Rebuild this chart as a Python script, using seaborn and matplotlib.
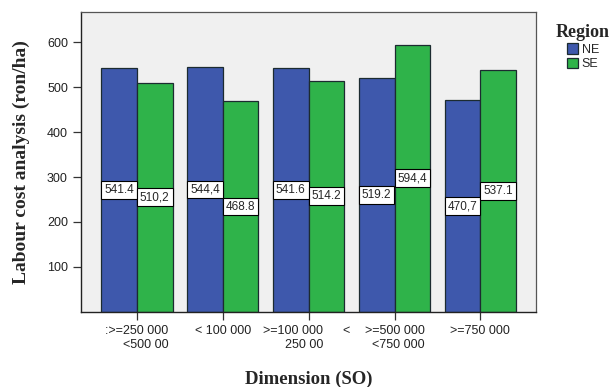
import matplotlib
matplotlib.use("Agg")
import matplotlib.pyplot as plt
import matplotlib.transforms as mtransforms
import seaborn as sns
import pandas as pd

# Chart data
dimensions = [":>=250 000\n<500 00", "< 100 000", ">=100 000\n250 00",
              ">=500 000\n<750 000", ">=750 000"]
regions = ["NE", "SE"]
ne_values = [541.4, 544.4, 541.6, 519.2, 470.7]
se_values = [510.2, 468.8, 514.2, 594.4, 537.1]
ne_labels = ["541.4", "544,4", "541.6", "519.2", "470,7"]
se_labels = ["510,2", "468.8", "514.2", "594,4", "537.1"]

df = pd.DataFrame({
    "Dimension": dimensions * 2,
    "Region": ["NE"] * len(dimensions) + ["SE"] * len(dimensions),
    "Cost": ne_values + se_values,
})

sns.set_style("white")
plt.rcParams["font.family"] = ["Liberation Sans", "DejaVu Sans"]

fig = plt.figure(figsize=(6.1, 3.87), dpi=100)
ax = fig.add_axes([0.133, 0.194, 0.746, 0.775])
ax.set_facecolor("#f0f0f0")

palette = {"NE": "#3e58ac", "SE": "#2fb34a"}
sns.barplot(data=df, x="Dimension", y="Cost", hue="Region", order=dimensions,
            hue_order=regions, palette=palette, width=0.83, saturation=1,
            edgecolor="#1c2b30", linewidth=0.9, ax=ax)

# value labels in the middle of each bar
for cont, labs in zip(ax.containers, [ne_labels, se_labels]):
    ax.bar_label(cont, labels=labs, label_type="center", fontsize=8.5,
                 bbox=dict(boxstyle="square,pad=0.25", fc="white",
                           ec="black", lw=0.8))

ax.set_xlim(-0.65, 4.65)
ax.set_ylim(0, 667)
ax.set_yticks([100, 200, 300, 400, 500, 600])
ax.tick_params(axis="y", direction="out", length=6, width=0.9, labelsize=9,
               left=True, colors="#333333", labelcolor="#222222")
ax.tick_params(axis="x", direction="out", length=6, width=0.9, labelsize=9,
               bottom=True, colors="#333333", labelcolor="#222222")
for lbl in ax.get_xticklabels():
    lbl.set_multialignment("right")

# the third label sits a bit left, with a stray "<" after it
shift = mtransforms.ScaledTranslation(-11 / 72, 0, fig.dpi_scale_trans)
third = ax.get_xticklabels()[2]
third.set_transform(third.get_transform() + shift)
ax.text(2.43, -0.045, "<", transform=ax.get_xaxis_transform(),
        ha="center", va="top", fontsize=9, color="#222222")

for side in ["left", "bottom"]:
    ax.spines[side].set_color("#222222")
    ax.spines[side].set_linewidth(1.0)
for side in ["top", "right"]:
    ax.spines[side].set_color("#555555")
    ax.spines[side].set_linewidth(0.9)

ax.set_xlabel("Dimension (SO)", family="Liberation Serif", fontweight="bold",
              fontsize=13.5, labelpad=14)
ax.set_ylabel("Labour cost analysis (ron/ha)", family="Liberation Serif",
              fontweight="bold", fontsize=14, labelpad=12)

handles, labels = ax.get_legend_handles_labels()
ax.get_legend().remove()
leg = fig.legend(handles, labels, title="Region", loc="upper left",
                 bbox_to_anchor=(0.903, 0.95), frameon=False, fontsize=9,
                 handlelength=0.9, handleheight=0.9, handletextpad=0.3,
                 labelspacing=0.15, borderaxespad=0)
leg.get_title().set_fontfamily("Liberation Serif")
leg.get_title().set_fontweight("bold")
leg.get_title().set_fontsize(13)

fig.savefig("out.png", dpi=100)
